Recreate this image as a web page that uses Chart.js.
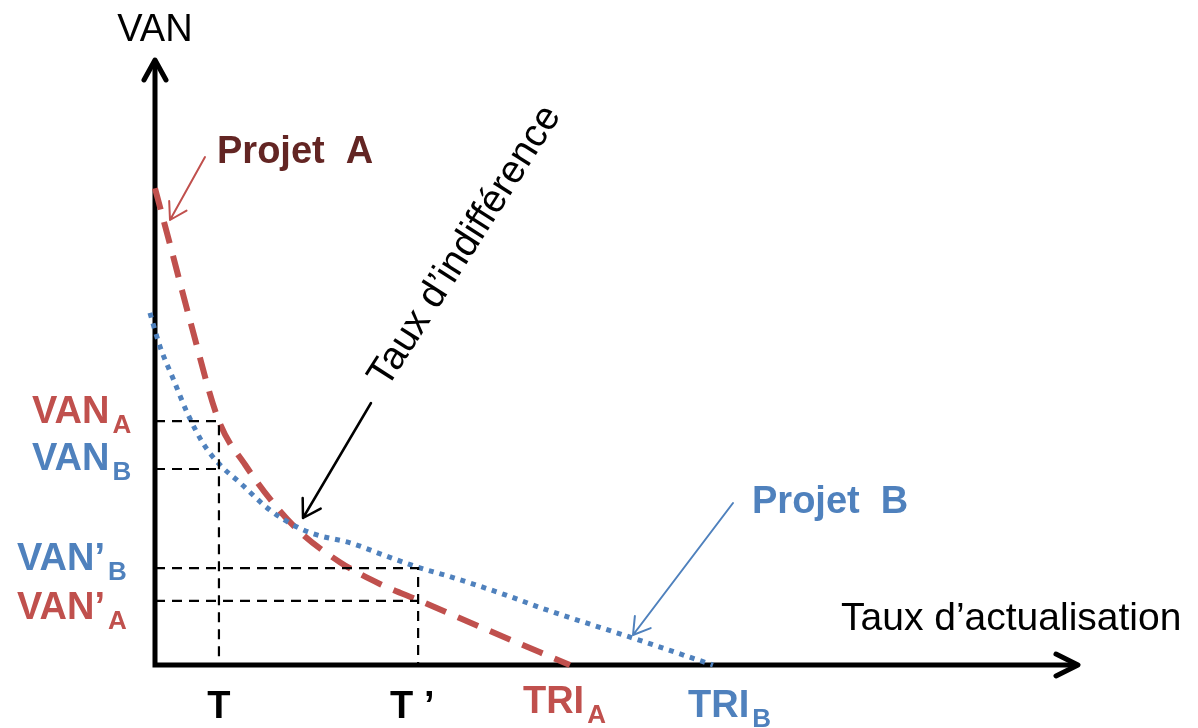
<!DOCTYPE html>
<html>
<head>
<meta charset="utf-8">
<script src="https://cdn.jsdelivr.net/npm/chart.js@4"></script>
<style>
  html, body { margin: 0; padding: 0; background: #fff; }
  #wrap { width: 1198px; height: 728px; position: relative; }
</style>
</head>
<body>
<div id="wrap"><canvas id="chart"></canvas></div>
<script>
// ------------------------------
// DATA
// ------------------------------
// Projet A : VAN vs taux d'actualisation
const rateA = [0, 0.33, 0.76, 1.39, 1.96, 2.61, 3.15, 4.02, 4.89, 5.76, 7.07, 9.02];
const vanA  = [78.8, 69.4, 57.0, 40.3, 33.1, 26.4, 22.0, 17.0, 13.4, 10.6, 6.3, 0];

// Projet B
const rateB = [-0.11, 0.11, 0.39, 0.70, 1.04, 1.41, 1.85, 2.50, 3.09, 3.52, 4.24, 4.96, 5.70, 6.41, 7.50, 8.52, 10.33, 12.13];
const vanB  = [58.2, 52.6, 47.4, 41.7, 36.7, 33.1, 30.1, 25.6, 22.8, 21.5, 20.2, 18.2, 16.2, 14.6, 11.9, 9.1, 4.6, 0];

// reference rates / values on the axes
const rateT      = 1.39;
const rateTprime = 5.72;
const triA       = 9.02;
const triB       = 12.13;
const vanAatT    = 40.3;
const vanBatT    = 32.4;
const vanBatT2   = 16.0;
const vanAatT2   = 10.6;

// ------------------------------
// COLOURS / FONTS
// ------------------------------
const RED   = "#C0504D";
const BLUE  = "#4F81BD";
const DARK  = "#632523";
const FONT  = "'Liberation Sans', Arial, sans-serif";

const toPts = (xs, ys) => xs.map((x, i) => ({ x: x, y: ys[i] }));

const guideStyle = {
    borderColor: "#000",
    borderWidth: 2.2,
    borderDash: [10, 7],
    pointRadius: 0,
    showLine: true,
    tension: 0,
    fill: false
};

// ------------------------------
// DRAW HELPERS
// ------------------------------
function arrow(ctx, x1, y1, x2, y2, color, width, head) {
    const a = Math.atan2(y2 - y1, x2 - x1);
    ctx.save();
    ctx.strokeStyle = color;
    ctx.lineWidth = width;
    ctx.lineCap = "round";
    ctx.lineJoin = "round";
    ctx.beginPath();
    ctx.moveTo(x1, y1);
    ctx.lineTo(x2, y2);
    ctx.moveTo(x2 - head * Math.cos(a - 0.55), y2 - head * Math.sin(a - 0.55));
    ctx.lineTo(x2, y2);
    ctx.lineTo(x2 - head * Math.cos(a + 0.55), y2 - head * Math.sin(a + 0.55));
    ctx.stroke();
    ctx.restore();
}

function label(ctx, txt, x, y, color, font, align) {
    ctx.font = font;
    ctx.fillStyle = color;
    ctx.textAlign = align || "left";
    ctx.textBaseline = "alphabetic";
    ctx.fillText(txt, x, y);
}

function subLabel(ctx, main, sub, x, y, color) {
    ctx.font = "bold 38px " + FONT;
    const w = ctx.measureText(main).width;
    label(ctx, main, x, y, color, "bold 38px " + FONT);
    label(ctx, sub, x + w + 3, y + 10, color, "bold 26px " + FONT);
}

// ------------------------------
// AXES + ANNOTATIONS PLUGIN
// ------------------------------
const diagramPlugin = {
    id: "diagram",
    beforeDatasetsDraw(chart) {
        const ctx = chart.ctx;
        const sx = chart.scales.x, sy = chart.scales.y;
        const x0 = sx.getPixelForValue(0);
        const y0 = sy.getPixelForValue(0);

        ctx.save();
        ctx.strokeStyle = "#000";
        ctx.lineWidth = 5;
        ctx.lineCap = "butt";
        ctx.beginPath();
        ctx.moveTo(x0, y0 + 2.5);
        ctx.lineTo(x0, 62);
        ctx.moveTo(x0 - 2.5, y0);
        ctx.lineTo(1076, y0);
        ctx.stroke();
        ctx.restore();

        // arrow heads
        ctx.save();
        ctx.strokeStyle = "#000";
        ctx.lineWidth = 5;
        ctx.lineCap = "round";
        ctx.lineJoin = "round";
        ctx.beginPath();
        ctx.moveTo(x0 - 11, 80);
        ctx.lineTo(x0, 60);
        ctx.lineTo(x0 + 11, 80);
        ctx.moveTo(1056, y0 - 11);
        ctx.lineTo(1078, y0);
        ctx.lineTo(1056, y0 + 11);
        ctx.stroke();
        ctx.restore();
    },
    afterDatasetsDraw(chart) {
        const ctx = chart.ctx;
        const sx = chart.scales.x, sy = chart.scales.y;

        ctx.save();
        label(ctx, "VAN", sx.getPixelForValue(0), 41, "#000", "38px " + FONT, "center");
        label(ctx, "Taux d\u2019actualisation", 841, 630, "#000", "39px " + FONT);

        label(ctx, "Projet  A", 217, 163, DARK, "bold 38px " + FONT);
        arrow(ctx, 205, 157, 170, 220, RED, 2, 19);

        label(ctx, "Projet  B", 752, 513, BLUE, "bold 38px " + FONT);
        arrow(ctx, 733, 503, 633, 635, BLUE, 2, 19);

        // taux d'indifference (rotated)
        ctx.save();
        ctx.translate(387, 389);
        ctx.rotate(-57.5 * Math.PI / 180);
        label(ctx, "Taux d\u2019indiff\u00e9rence", 0, 0, "#000", "39px " + FONT);
        ctx.restore();
        arrow(ctx, 371, 403, 303, 518, "#000", 2.5, 20);

        // y-side labels
        subLabel(ctx, "VAN", "A", 32, sy.getPixelForValue(vanAatT) + 2, RED);
        subLabel(ctx, "VAN", "B", 32, sy.getPixelForValue(vanBatT) + 1, BLUE);
        subLabel(ctx, "VAN\u2019", "B", 17, sy.getPixelForValue(vanBatT2) + 2, BLUE);
        subLabel(ctx, "VAN\u2019", "A", 17, sy.getPixelForValue(vanAatT2) + 18, RED);

        // x-side labels
        label(ctx, "T", sx.getPixelForValue(rateT), 718, "#000", "bold 38px " + FONT, "center");
        label(ctx, "T \u2019", sx.getPixelForValue(rateTprime) - 28, 718, "#000", "bold 38px " + FONT);
        subLabel(ctx, "TRI", "A", sx.getPixelForValue(triA) - 47, 713, RED);
        subLabel(ctx, "TRI", "B", sx.getPixelForValue(triB) - 25, 717, BLUE);
        ctx.restore();
    }
};

// ------------------------------
// CHART
// ------------------------------
Chart.defaults.font.family = FONT;

new Chart(document.getElementById("chart").getContext("2d"), {
    type: "scatter",
    data: {
        datasets: [
            Object.assign({ data: [{ x: 0, y: vanAatT }, { x: rateT, y: vanAatT }, { x: rateT, y: 0 }] }, guideStyle),
            Object.assign({ data: [{ x: 0, y: vanBatT }, { x: rateT, y: vanBatT }] }, guideStyle),
            Object.assign({ data: [{ x: 0, y: vanBatT2 }, { x: rateTprime, y: vanBatT2 }, { x: rateTprime, y: 0 }] }, guideStyle),
            Object.assign({ data: [{ x: 0, y: vanAatT2 }, { x: rateTprime, y: vanAatT2 }] }, guideStyle),
            {
                label: "Projet B",
                data: toPts(rateB, vanB),
                showLine: true,
                borderColor: BLUE,
                borderWidth: 5,
                borderDash: [5, 6],
                borderCapStyle: "butt",
                cubicInterpolationMode: "monotone",
                pointRadius: 0,
                clip: false
            },
            {
                label: "Projet A",
                data: toPts(rateA, vanA),
                showLine: true,
                borderColor: RED,
                borderWidth: 6,
                borderDash: [22, 13],
                borderCapStyle: "butt",
                cubicInterpolationMode: "monotone",
                pointRadius: 0,
                clip: false
            }
        ]
    },
    options: {
        responsive: true,
        maintainAspectRatio: false,
        animation: false,
        layout: { padding: { left: 132, right: 123, top: 60, bottom: 63 } },
        plugins: {
            legend: { display: false },
            tooltip: { enabled: false }
        },
        scales: {
            x: { type: "linear", min: -0.5, max: 20, display: false },
            y: { type: "linear", min: 0, max: 100, display: false }
        }
    },
    plugins: [diagramPlugin]
});
</script>
</body>
</html>
